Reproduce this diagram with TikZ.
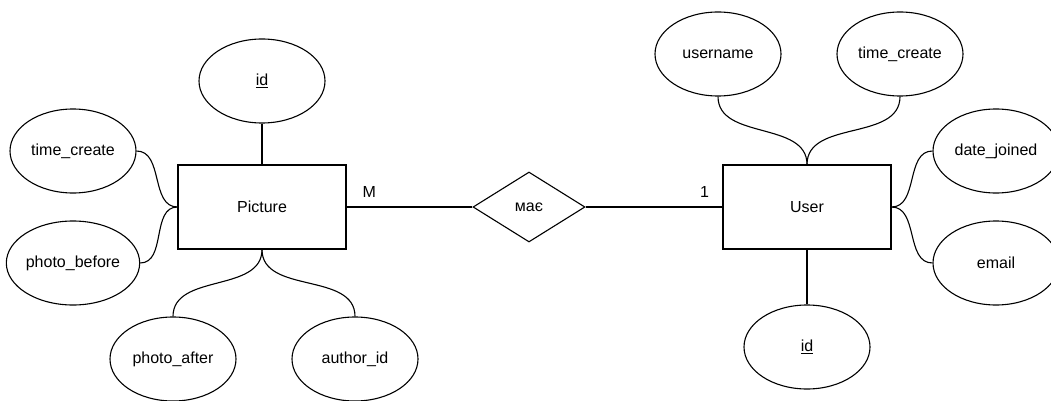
\documentclass[tikz,border=0pt]{standalone}
\usepackage{fontspec}
\setmainfont{Liberation Sans}
\usetikzlibrary{shapes.geometric}
\tikzset{
  attr/.style={draw, ellipse, line width=1.1pt, minimum width=126pt, minimum height=84pt, inner sep=0pt},
  entity/.style={draw, rectangle, line width=1.1pt, minimum width=168pt, minimum height=84pt, inner sep=0pt},
  rel/.style={draw, diamond, line width=1.1pt, minimum width=112pt, minimum height=70pt, inner sep=0pt},
  link/.style={line width=1.1pt}
}
\begin{document}
\begin{tikzpicture}[x=1pt,y=-1pt,font=\fontsize{16}{19}\selectfont]
\useasboundingbox (0,0) rectangle (1051,401);
% entities and relation
\node[entity] (picture) at (262,207) {Picture};
\node[entity] (user) at (807,207) {User};
\node[rel] (has) at (529,207) {має};
% Picture attributes
\node[attr] (pid) at (262,81) {\underline{id}};
\node[attr] (ptime) at (73,151) {time\_create};
\node[attr] (pbefore) at (73,263) {photo\_before};
\node[attr] (pafter) at (173,359) {photo\_after};
\node[attr] (pauthor) at (355,359) {author\_id};
% User attributes
\node[attr] (uname) at (718,54) {username};
\node[attr] (utime) at (900,54) {time\_create};
\node[attr] (ujoined) at (996,151) {date\_joined};
\node[attr] (umail) at (996,263) {email};
\node[attr] (uid) at (807,347) {\underline{id}};
% connectors
\draw[link] (picture) -- node[pos=.18, above=6pt]{M} (has);
\draw[link] (has) -- node[pos=.87, above=6pt]{1} (user);
\draw[link] (pid) -- (picture);
\draw[link] (ptime.east) to[out=0,in=180] (picture.west);
\draw[link] (pbefore.east) to[out=0,in=180] (picture.west);
\draw[link] (picture.south) to[out=-90,in=90] (pafter.north);
\draw[link] (picture.south) to[out=-90,in=90] (pauthor.north);
\draw[link] (uname.south) to[out=-90,in=90] (user.north);
\draw[link] (utime.south) to[out=-90,in=90] (user.north);
\draw[link] (user.east) to[out=0,in=180] (ujoined.west);
\draw[link] (user.east) to[out=0,in=180] (umail.west);
\draw[link] (uid) -- (user);
\end{tikzpicture}
\end{document}
